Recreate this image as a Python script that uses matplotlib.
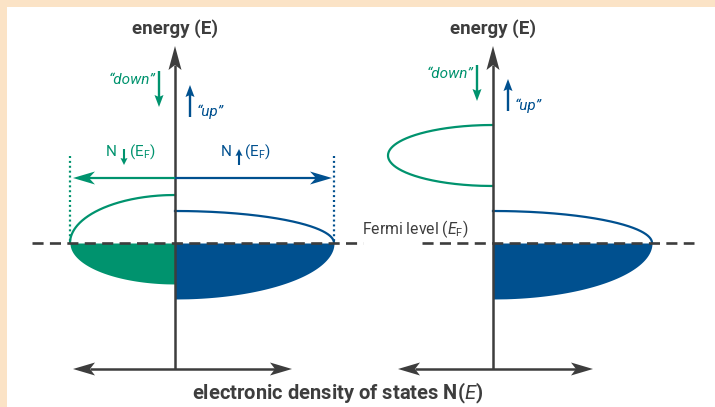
import numpy as np
import matplotlib.pyplot as plt
from matplotlib.patches import Polygon, Rectangle

plt.rcParams['font.family'] = ['Roboto', 'DejaVu Sans']
plt.rcParams['mathtext.fontset'] = 'custom'
plt.rcParams['mathtext.rm'] = 'Roboto'
plt.rcParams['mathtext.it'] = 'Roboto:italic'
plt.rcParams['mathtext.bf'] = 'Roboto:bold'

GREEN = '#00936e'
BLUE = '#00508f'
GREY = '#3d3d3d'
PEACH = '#fbe3c6'

# Band data for the two panels (energies relative to E_F, DOS in arbitrary units)
down_top = [0.48, 1.18]
down_bottom = [-0.41, 0.57]
down_width = [1.05, 1.05]
up_top = [0.32, 0.32]
up_bottom = [-0.56, -0.56]
up_width = [1.59, 1.59]

W, H = 715, 407
SCALE = 100.0          # px per unit
panel_x = [175, 493]   # energy axis positions
fermi_y = 243
axis_top = 46
axis_bottom = 369
dos_axis = [(73, 292), (398, 593)]


def band_curve(top, bottom, width, n=300):
    """Schematic DOS: quarter ellipses meeting at E_F, or half ellipse if the band
    lies entirely on one side of E_F."""
    if bottom < 0 < top:
        e_lo = np.linspace(bottom, 0, n)
        e_hi = np.linspace(0, top, n)
        n_lo = width * np.sqrt(np.clip(1 - (e_lo / bottom) ** 2, 0, None))
        n_hi = width * np.sqrt(np.clip(1 - (e_hi / top) ** 2, 0, None))
        return np.concatenate([e_lo, e_hi]), np.concatenate([n_lo, n_hi])
    c = (top + bottom) / 2
    h = (top - bottom) / 2
    e = np.linspace(bottom, top, 2 * n)
    return e, width * np.sqrt(np.clip(1 - ((e - c) / h) ** 2, 0, None))


def head(ax, tip, direction, length=22, width=13, notch=5, color=GREY, z=5):
    d = np.asarray(direction, float)
    d /= np.linalg.norm(d)
    p = np.array([-d[1], d[0]])
    tip = np.asarray(tip, float)
    back = tip - d * length
    pts = [tip, back + p * width / 2, tip - d * (length - notch), back - p * width / 2]
    ax.add_patch(Polygon(pts, closed=True, facecolor=color, edgecolor='none', zorder=z))
    return tip - d * (length - notch)


def arrow(ax, start, tip, color, lw, length, width, notch, z=5):
    d = np.subtract(tip, start)
    end = head(ax, tip, d, length, width, notch, color, z)
    ax.plot([start[0], end[0]], [start[1], end[1]], color=color, lw=lw,
            solid_capstyle='butt', zorder=z)


def spin_label(ax, x, y, down, color):
    """N with a spin arrow below the baseline, followed by (E_F)."""
    ax.text(x, y, 'N', ha='left', va='center', fontsize=11, color=color)
    ax_ = x + 18
    if down:
        arrow(ax, (ax_, y - 3), (ax_, y + 13), color, 1.5, 7, 7, 1)
    else:
        arrow(ax, (ax_, y + 13), (ax_, y - 3), color, 1.5, 7, 7, 1)
    ax.text(ax_ + 5, y, r'(E$_\mathrm{F}$)', ha='left', va='center', fontsize=11,
            color=color)


fig = plt.figure(figsize=(W / 100, H / 100), dpi=100)
ax = fig.add_axes([0, 0, 1, 1])
ax.set_xlim(0, W)
ax.set_ylim(H, 0)
ax.axis('off')

# frame
ax.add_patch(Rectangle((0, 0), W, H, facecolor='white', edgecolor='none', zorder=0))
ax.add_patch(Rectangle((0, 0), 7, H, facecolor=PEACH, edgecolor='none', zorder=0.5))
ax.add_patch(Rectangle((0, 0), W, 7, facecolor=PEACH, edgecolor='none', zorder=0.5))

for i, x0 in enumerate(panel_x):
    # energy axis
    arrow(ax, (x0, axis_bottom), (x0, axis_top), GREY, 1.8, 24, 13, 5, z=4)
    ax.text(x0, 29, 'energy (E)', ha='center', va='center', fontsize=13.5,
            fontweight='bold', color=GREY)
    # DOS axis (double headed)
    xl, xr = dos_axis[i]
    head(ax, (xl, axis_bottom), (-1, 0), 22, 13, 5, GREY)
    head(ax, (xr, axis_bottom), (1, 0), 22, 13, 5, GREY)
    ax.plot([xl + 17, xr - 17], [axis_bottom] * 2, color=GREY, lw=1.8,
            solid_capstyle='butt', zorder=4)

    # spin-resolved bands: down to the left, up to the right
    for sign, top, bot, wid, col in [(-1, down_top[i], down_bottom[i], down_width[i], GREEN),
                                      (1, up_top[i], up_bottom[i], up_width[i], BLUE)]:
        e, nn = band_curve(top, bot, wid)
        xs = x0 + sign * nn * SCALE
        ys = fermi_y - e * SCALE
        occ = e <= 0
        empty = e >= 0
        if occ.any():
            ax.fill_betweenx(ys[occ], x0, xs[occ], color=col, lw=0, zorder=2)
        ax.plot(xs[empty], ys[empty], color=col, lw=1.6, zorder=3)

    # spin labels
    off = [0, 318][i]
    dy = [0, -6][i]
    ax.text(155 + off, 80 + dy, '\u201cdown\u201d', ha='right', va='center',
            fontsize=11, style='italic', color=GREEN)
    arrow(ax, (159 + off, 71 + dy), (159 + off, 107 + dy), GREEN, 1.7, 12, 9, 2)
    arrow(ax, (190 + off, 117 + dy), (190 + off, 85 + dy), BLUE, 1.7, 12, 9, 2)
    ax.text(197 + off, 112 + dy, '\u201cup\u201d', ha='left', va='center',
            fontsize=11, style='italic', color=BLUE)

# N(E_F) markers for the ferromagnet
x0 = panel_x[0]
nd = x0 - down_width[0] * SCALE
nu = x0 + up_width[0] * SCALE
ax.plot([nd, nd], [156, fermi_y], color=GREEN, lw=1.6, ls=(0, (0.9, 1.3)), zorder=3)
ax.plot([nu, nu], [156, fermi_y], color=BLUE, lw=1.6, ls=(0, (0.9, 1.3)), zorder=3)
arrow(ax, (x0, 178), (nd + 3, 178), GREEN, 1.6, 22, 13, 6)
arrow(ax, (x0, 178), (nu - 2, 178), BLUE, 1.6, 22, 13, 6)
spin_label(ax, 106, 152, True, GREEN)
spin_label(ax, 221, 152, False, BLUE)

# Fermi level
ax.plot([32, 363], [fermi_y] * 2, color=GREY, lw=1.9, ls=(0, (4.2, 2.4)), zorder=6)
ax.plot([422, 694], [fermi_y] * 2, color=GREY, lw=1.9, ls=(0, (4.2, 2.4)), zorder=6)
ax.text(362, 229, r'Fermi level ($E_\mathrm{F}$)', ha='left', va='center',
        fontsize=11.3, color=GREY)

ax.text(338, 393, r'electronic density of states N($\mathbf{\mathit{E}}$)', ha='center',
        va='center', fontsize=14.5, fontweight='bold', color=GREY)

fig.savefig('out.png', dpi=100)
